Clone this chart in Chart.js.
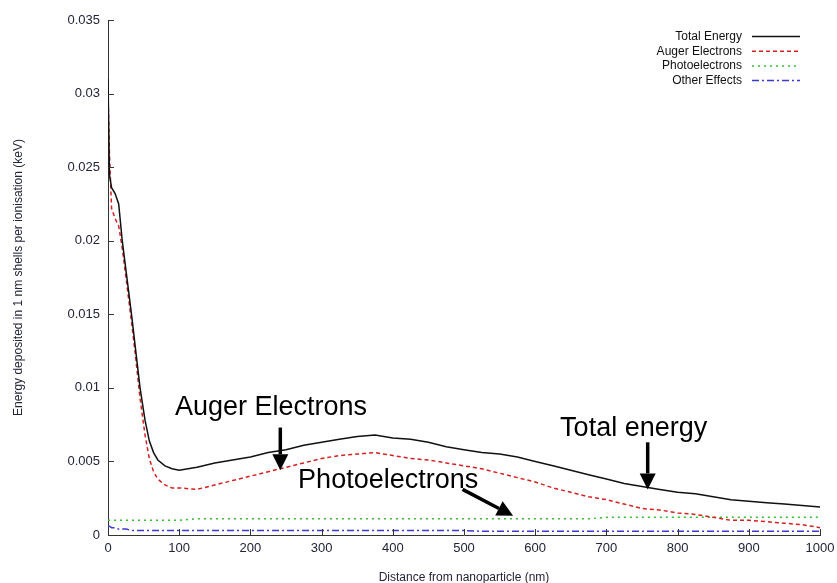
<!DOCTYPE html>
<html>
<head>
<meta charset="utf-8">
<script src="https://cdn.jsdelivr.net/npm/chart.js@4"></script>
<style>
  html, body { margin: 0; padding: 0; background: #fff; }
  #wrap { width: 837px; height: 583px; }
</style>
</head>
<body>
<div id="wrap"><canvas id="energy_chart" width="837" height="583"></canvas></div>
<script>
// distance from nanoparticle (nm)
const distanceNm = [0, 2, 5, 10, 15, 20, 26, 33, 39, 45, 52, 58, 64, 70, 80, 90, 100,
  125, 150, 175, 200, 225, 250, 275, 300, 325, 350, 375, 400, 425, 450, 475, 500,
  525, 550, 575, 600, 625, 650, 675, 700, 725, 750, 775, 800, 825, 850, 875, 900,
  925, 950, 975, 1000];

// energy per ionisation (keV)
const totalEnergy = [0.031, 0.0245, 0.0236, 0.0232, 0.0225, 0.0200, 0.0177, 0.0150, 0.0125, 0.0100, 0.0078, 0.0064, 0.0056, 0.0051, 0.0047, 0.0045, 0.0044,
  0.0046, 0.0049, 0.0051, 0.0053, 0.0056, 0.0058, 0.0061, 0.0063, 0.0065, 0.0067, 0.0068, 0.0066, 0.0065, 0.0063, 0.0060, 0.0058,
  0.0056, 0.0055, 0.0053, 0.0050, 0.0047, 0.0044, 0.0041, 0.0038, 0.0035, 0.0033, 0.0031, 0.0029, 0.0028, 0.0026, 0.0024, 0.0023,
  0.0022, 0.0021, 0.0020, 0.0019];
const augerElectrons = [0.030, 0.026, 0.0222, 0.0215, 0.0210, 0.0195, 0.0172, 0.0145, 0.0120, 0.0093, 0.0068, 0.0052, 0.0043, 0.0038, 0.0034, 0.0032, 0.0032,
  0.0031, 0.0034, 0.0037, 0.0040, 0.0043, 0.0046, 0.0049, 0.0052, 0.0054, 0.0055, 0.0056, 0.0054, 0.0052, 0.0051, 0.0049, 0.0047,
  0.0045, 0.0042, 0.0039, 0.0036, 0.0032, 0.0029, 0.0026, 0.0024, 0.0021, 0.0018, 0.0017, 0.0015, 0.0014, 0.0012, 0.0010, 0.0010,
  0.0009, 0.0008, 0.0007, 0.0005];
const photoelectrons = [0.0010, 0.0010, 0.0010, 0.0010, 0.0010, 0.0010, 0.0010, 0.0010, 0.0010, 0.0010, 0.0010, 0.0010, 0.0010, 0.0010, 0.0010, 0.0010, 0.0010,
  0.0011, 0.0011, 0.0011, 0.0011, 0.0011, 0.0011, 0.0011, 0.0011, 0.0011, 0.0011, 0.0011, 0.0011, 0.0011, 0.0011, 0.0011, 0.0011,
  0.0011, 0.0011, 0.0011, 0.0011, 0.0011, 0.0011, 0.0011, 0.0012, 0.0012, 0.0012, 0.0012, 0.0012, 0.0012, 0.0012, 0.0012, 0.0012,
  0.0012, 0.0012, 0.0012, 0.0012];
const otherEffects = [0.0006, 0.0006, 0.0005, 0.0005, 0.0004, 0.0004, 0.0004, 0.0003, 0.0003, 0.0003, 0.0003, 0.0003, 0.0003, 0.0003, 0.0003, 0.0003, 0.0003,
  0.0003, 0.0003, 0.0003, 0.0003, 0.0003, 0.0003, 0.0003, 0.0003, 0.0003, 0.0003, 0.0003, 0.0003, 0.0003, 0.0003, 0.0003, 0.0003,
  0.00025, 0.00025, 0.00025, 0.00025, 0.00025, 0.00025, 0.00025, 0.00025, 0.00025, 0.00025, 0.00025, 0.00025, 0.00025, 0.00025, 0.00025, 0.00025,
  0.00025, 0.00025, 0.00025, 0.00025];

const seriesNames = ['Total Energy', 'Auger Electrons', 'Photoelectrons', 'Other Effects'];
const yTickLabels = ['0', '0.005', '0.01', '0.015', '0.02', '0.025', '0.03', '0.035'];
const xTickLabels = ['0', '100', '200', '300', '400', '500', '600', '700', '800', '900', '1000'];

// hand-drawn notes on the picture, anchored in data units
const notes = [
  { text: 'Auger Electrons', x: 94, y: 0.00815 },
  { text: 'Photoelectrons', x: 267, y: 0.00319 },
  { text: 'Total energy', x: 635, y: 0.00673 }
];
const arrows = [
  { x0: 242, y0: 0.0073, x1: 242, y1: 0.0044 },
  { x0: 498, y0: 0.0031, x1: 569, y1: 0.0013 },
  { x0: 758, y0: 0.0063, x1: 758, y1: 0.0031 }
];

const lineColors = ['#111111', '#d42020', '#30c030', '#3a3ad0'];
const lineDashes = [[], [4, 3], [2, 4], [7, 3, 2, 3]];

const toPoints = (vals) => distanceNm.map((x, i) => ({ x: x, y: vals[i] }));
const allSeries = [totalEnergy, augerElectrons, photoelectrons, otherEffects];

const datasets = allSeries.map((vals, i) => ({
  label: seriesNames[i],
  data: toPoints(vals),
  borderColor: lineColors[i],
  borderWidth: 1.5,
  borderDash: lineDashes[i],
  pointRadius: 0,
  fill: false,
  tension: 0
}));

const labelColor = '#23233a';
const fontFamily = '"Liberation Sans", Arial, sans-serif';

// inward ticks, legend at top right and the annotations
const extrasPlugin = {
  id: 'extras',
  afterDraw(chart) {
    const ctx = chart.ctx;
    const xs = chart.scales.x, ys = chart.scales.y;
    const area = chart.chartArea;
    ctx.save();
    ctx.strokeStyle = '#333';
    ctx.lineWidth = 1;
    xs.ticks.forEach(t => {
      const px = Math.round(xs.getPixelForValue(t.value)) + 0.5;
      ctx.beginPath(); ctx.moveTo(px, area.bottom); ctx.lineTo(px, area.bottom - 6); ctx.stroke();
    });
    ys.ticks.forEach(t => {
      const py = Math.round(ys.getPixelForValue(t.value)) + 0.5;
      ctx.beginPath(); ctx.moveTo(area.left, py); ctx.lineTo(area.left + 6, py); ctx.stroke();
    });

    // legend: text right aligned, sample line after it
    ctx.font = '12px ' + fontFamily;
    ctx.textAlign = 'right';
    ctx.textBaseline = 'middle';
    seriesNames.forEach((name, i) => {
      const yy = 36.5 + i * 14.7;
      ctx.fillStyle = '#111';
      ctx.fillText(name, 742, yy);
      ctx.strokeStyle = lineColors[i];
      ctx.lineWidth = 1.5;
      ctx.setLineDash(lineDashes[i]);
      ctx.beginPath(); ctx.moveTo(752, yy); ctx.lineTo(800, yy); ctx.stroke();
    });
    ctx.setLineDash([]);

    // annotations
    ctx.fillStyle = '#000';
    ctx.font = '27px ' + fontFamily;
    ctx.textAlign = 'left';
    ctx.textBaseline = 'alphabetic';
    notes.forEach(n => {
      ctx.fillText(n.text, xs.getPixelForValue(n.x), ys.getPixelForValue(n.y));
    });
    arrows.forEach(a => {
      const x0 = xs.getPixelForValue(a.x0), y0 = ys.getPixelForValue(a.y0);
      const x1 = xs.getPixelForValue(a.x1), y1 = ys.getPixelForValue(a.y1);
      const ang = Math.atan2(y1 - y0, x1 - x0);
      const headLen = 16, headHalf = 8;
      const bx = x1 - headLen * Math.cos(ang), by = y1 - headLen * Math.sin(ang);
      ctx.strokeStyle = '#000';
      ctx.lineWidth = 3.5;
      ctx.beginPath(); ctx.moveTo(x0, y0); ctx.lineTo(bx, by); ctx.stroke();
      ctx.beginPath();
      ctx.moveTo(x1, y1);
      ctx.lineTo(bx + headHalf * Math.sin(ang), by - headHalf * Math.cos(ang));
      ctx.lineTo(bx - headHalf * Math.sin(ang), by + headHalf * Math.cos(ang));
      ctx.closePath();
      ctx.fill();
    });
    ctx.restore();
  }
};

const ctx = document.getElementById('energy_chart').getContext('2d');
const energy_chart = new Chart(ctx, {
  type: 'line',
  data: { datasets: datasets },
  plugins: [extrasPlugin],
  options: {
    responsive: false,
    animation: false,
    layout: { padding: { left: 0, right: 17, top: 20, bottom: 0 } },
    plugins: { legend: { display: false }, tooltip: { enabled: false } },
    scales: {
      x: {
        type: 'linear',
        min: 0, max: 1000,
        afterFit: (s) => { s.height = 48; s.paddingRight = 0; s.paddingLeft = 0; },
        ticks: {
          stepSize: 100,
          padding: 6,
          color: labelColor,
          font: { family: fontFamily, size: 13 },
          maxRotation: 0,
          callback: (v, i) => xTickLabels[i]
        },
        grid: { display: true, drawOnChartArea: false, drawTicks: false },
        border: { display: true, color: '#333', width: 1 },
        title: {
          display: true,
          text: 'Distance from nanoparticle (nm)',
          color: labelColor,
          font: { family: fontFamily, size: 12 },
          padding: { top: 4, bottom: -2 }
        }
      },
      y: {
        type: 'linear',
        min: 0, max: 0.035,
        afterFit: (s) => { s.width = 108; s.paddingTop = 0; s.paddingBottom = 0; },
        ticks: {
          stepSize: 0.005,
          padding: 8,
          color: labelColor,
          font: { family: fontFamily, size: 13 },
          callback: (v, i) => yTickLabels[i]
        },
        grid: { display: true, drawOnChartArea: false, drawTicks: false },
        border: { display: true, color: '#333', width: 1 },
        title: {
          display: true,
          text: 'Energy deposited in 1 nm shells per ionisation (keV)',
          color: labelColor,
          font: { family: fontFamily, size: 12 },
          padding: { top: 11, bottom: 0 }
        }
      }
    }
  }
});
</script>
</body>
</html>
